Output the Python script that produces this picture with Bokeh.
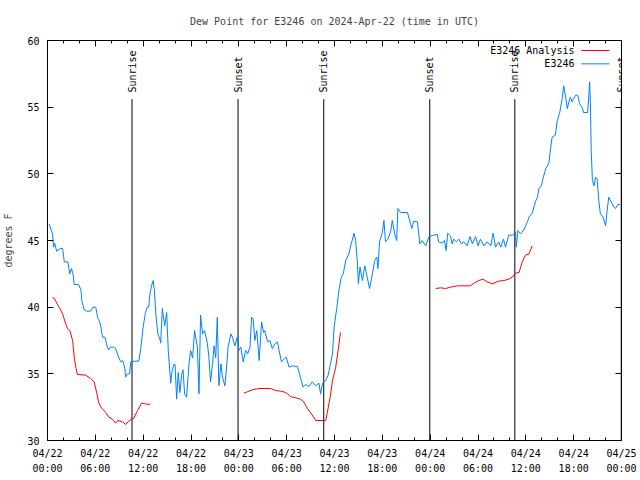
import math
from bokeh.plotting import figure
from bokeh.models import (FixedTicker, LinearAxis, DatetimeAxis, Range1d, Label,
                          ColumnDataSource)
from bokeh.embed import file_html
from bokeh.resources import INLINE

NAN = float("nan")
START_MS = 1713744000000  # 2024-04-22 00:00 UTC
HOUR_MS = 3600000

# ---- data (hours since 2024-04-22 00:00 UTC, dew point degrees F) ----
obs_hours = [0.2, 0.63, 0.75, 0.9, 1.15, 1.6, 1.9, 2.1, 2.55, 2.8, 3.0, 3.2, 3.35, 3.9, 4.2, 4.3,
             4.6, 4.9, 5.4, 5.7, 6.05, 6.3, 6.55, 6.7, 6.9, 7.2, 7.5, 7.7, 7.9, 8.3, 8.55, 8.95,
             9.2, 9.45, 9.7, 9.8, 10.05, 10.3, 10.45, 11.05, 11.45, 11.7, 12.0, 12.2, 12.3, 12.5,
             12.7, 12.85, 13.05, 13.25, 13.4, 13.6, 13.85, 14.1, 14.2, 14.4, 14.7, 14.95, 15.15,
             15.45, 15.65, 15.85, 16.0, 16.2, 16.4, 16.6, 16.85, 17.0, 17.2, 17.45, 17.75, 17.95,
             18.2, 18.45, 18.8, 19.0, 19.2, 19.45, 19.7, 20.05, 20.25, 20.45, 20.7, 20.9, 21.1,
             21.3, 21.5, 21.75, 21.95, 22.25, 22.5, 22.65, 23.0, 23.2, 23.5, 23.8, 24.0, 24.25,
             24.55, 24.85, 25.1, 25.4, 25.6, 25.8, 26.0, 26.25, 26.55, 26.85, 27.1, 27.25, 27.6,
             27.9, 28.2, 28.55, 28.85, 29.05, 29.35, 29.65, 29.95, 30.3, 30.7, 31.35, 31.65,
             32.05, 32.4, 32.8, 33.2, 33.65, 34.05, 34.25, 34.5, 34.9, 35.2, 35.5, 35.75, 35.95,
             36.3, 36.55, 36.85, 37.1, 37.4, 37.8, 38.1, 38.45, 38.65, 38.85, 39.0, 39.2, 39.5,
             39.8, 40.1, 40.4, 40.75, 41.05, 41.3, 41.45, 41.65, 42.0, 42.2, 42.4, 42.7, 43.05,
             43.25, 43.55, 43.8, 43.95, 44.3, 45.15, 45.7, 45.95, 46.4, 46.7, 47.0, 47.45, 47.85,
             48.45, 48.9, 49.05, 49.5, 49.8, 50.0, 50.2, 50.55, 50.75, 50.95, 51.3, 51.6, 51.9,
             52.25, 52.65, 53.0, 53.3, 53.7, 54.0, 54.3, 54.75, 55.15, 55.6, 55.9, 56.2, 56.6,
             56.85, 57.2, 57.45, 57.85, 58.3, 58.7, 58.8, 59.0, 59.35, 59.75, 60.2, 60.4, 60.8,
             61.2, 61.45, 61.65, 61.95, 62.2, 62.5, 62.7, 62.9, 63.1, 63.3, 63.7, 63.95, 64.25,
             64.55, 64.75, 65.0, 65.2, 65.4, 65.6, 65.8, 66.25, 66.5, 66.75, 67.05, 67.25, 67.75,
             67.9, 68.0, 68.1, 68.2, 68.35, 68.55, 68.75, 68.95, 69.15, 69.35, 69.7, 70.0, 70.2,
             70.4, 70.7, 71.05, 71.25, 71.55, 71.8]
obs_values = [46.25, 45.5, 44.5, 44.8, 44.2, 44.4, 44.4, 43.4, 43.4, 42.5, 42.9, 42.5, 41.7, 41.7,
              41.3, 40.5, 39.8, 39.7, 39.7, 40.0, 40.0, 39.2, 38.9, 38.5, 37.75, 37.75, 37.0, 36.8,
              37.0, 37.0, 36.9, 36.2, 35.9, 36.0, 35.4, 34.75, 35.0, 35.0, 35.9, 35.95, 35.95,
              36.9, 38.5, 39.3, 39.6, 40.0, 40.0, 41.0, 41.6, 42.0, 41.3, 39.4, 38.0, 37.6, 37.3,
              39.9, 38.6, 39.6, 36.75, 34.3, 35.3, 35.7, 35.7, 33.1, 35.1, 33.6, 35.0, 35.3, 33.5,
              33.25, 35.75, 36.75, 36.2, 38.25, 37.0, 33.5, 39.4, 38.0, 38.25, 37.3, 36.2, 34.4,
              35.75, 37.1, 36.2, 39.25, 34.1, 35.75, 34.75, 34.1, 35.75, 37.0, 38.0, 37.75, 37.1,
              37.75, 36.75, 37.0, 35.9, 36.75, 36.5, 37.0, 39.25, 39.1, 37.5, 38.25, 36.0, 38.9,
              38.1, 38.25, 37.4, 37.5, 36.9, 37.25, 37.4, 36.75, 35.9, 36.1, 36.25, 35.5, 35.6,
              35.55, 34.9, 34.0, 34.2, 34.05, 34.4, 34.1, 34.3, 33.5, 34.3, 34.5, 34.9, 35.75,
              36.5, 38.5, 40.0, 41.25, 42.25, 42.5, 43.5, 44.0, 44.75, 45.55, 45.0, 43.5, 41.75,
              43.0, 42.0, 43.1, 42.25, 41.4, 42.5, 43.5, 43.75, 42.9, 44.9, 45.6, 46.5, 44.9, 45.1,
              45.7, 46.5, 45.5, 45.0, 47.4, 47.1, 47.1, 45.9, 46.45, 46.4, 44.75, 45.0, 44.6, 45.3,
              45.4, 45.45, 44.9, 44.8, 45.0, 44.25, 45.55, 45.35, 44.75, 45.1, 44.9, 45.1, 44.75,
              44.9, 44.6, 45.3, 44.75, 45.3, 44.6, 45.1, 44.6, 44.9, 44.6, 45.55, 44.5, 44.9, 44.5,
              45.1, 44.5, 45.4, 45.4, 45.6, 44.5, 45.75, 45.5, 45.8, 46.4, 46.75, 47.05, 47.9,
              48.25, 48.9, 49.1, 49.75, 50.4, 50.6, 50.85, 51.9, 52.75, 52.9, 54.0, 54.6, 55.6,
              56.6, 55.75, 54.9, 55.4, 55.75, 55.4, 55.9, 55.9, 55.25, 55.0, 54.6, 54.6, 55.9,
              56.9, 55.25, 51.75, 49.5, 49.1, 49.75, 49.6, 48.0, 47.0, 46.75, 46.1, 47.25, 48.25,
              47.9, 47.5, 47.4, 47.7, 47.7]

# analysis series (NaN = gap in the data)
ana_hours = [0.63, 0.8, 1.45, 1.9, 2.2, 2.5, 2.8, 3.15, 3.35, 3.55, 3.75, 4.8, 5.4, 5.85, 6.2,
             6.4, 6.7, 7.3, 7.7, 8.15, 8.55, 8.8, 9.4, 9.8, 10.25, 10.8, 11.3, 11.8, 12.2, 12.85,
             18.0,
             24.65, 25.05, 25.7, 26.5, 28.0, 28.6, 29.25, 29.9, 30.5, 31.15, 31.75, 32.15, 32.6,
             33.1, 33.65, 34.9, 35.1, 35.45, 35.75, 36.15, 36.45, 36.75,
             42.0,
             48.7, 49.3, 49.95, 50.55, 51.4, 53.05, 53.5, 54.1, 54.65, 55.15, 55.8, 56.6, 57.25,
             57.85, 58.3, 58.7, 59.15, 59.55, 59.95, 60.4, 60.8]
ana_values = [40.7, 40.7, 40.0, 39.5, 38.9, 38.4, 38.25, 37.5, 36.25, 35.5, 34.95, 34.9, 34.65,
              34.4, 33.5, 32.9, 32.5, 32.1, 31.75, 31.6, 31.3, 31.5, 31.4, 31.2, 31.5, 31.65,
              32.25, 32.8, 32.75, 32.7,
              NAN,
              33.55, 33.65, 33.8, 33.9, 33.9, 33.75, 33.7, 33.6, 33.3, 33.2, 33.1, 32.9, 32.4,
              32.0, 31.5, 31.5, 32.1, 33.25, 34.5, 35.5, 36.75, 38.1,
              NAN,
              41.4, 41.45, 41.4, 41.5, 41.6, 41.6, 41.8, 42.0, 42.1, 41.9, 41.75, 41.95, 42.0,
              42.1, 42.25, 42.55, 42.6, 43.4, 43.9, 44.0, 44.6]

sun_hours = [10.6, 23.9, 34.65, 47.95, 58.62, 71.97]
sun_labels = ["Sunrise", "Sunset", "Sunrise", "Sunset", "Sunrise", "Sunset"]

tick_hours = list(range(0, 73, 6))
tick_labels = ["04/22\n00:00", "04/22\n06:00", "04/22\n12:00", "04/22\n18:00",
               "04/23\n00:00", "04/23\n06:00", "04/23\n12:00", "04/23\n18:00",
               "04/24\n00:00", "04/24\n06:00", "04/24\n12:00", "04/24\n18:00",
               "04/25\n00:00"]
minor_hours = list(range(0, 73, 2))
y_ticks = [30, 35, 40, 45, 50, 55, 60]

TITLE = "Dew Point for E3246 on 2024-Apr-22 (time in UTC)"
FONT = "DejaVu Sans Mono"
FS = "10px"


def to_ms(h):
    return START_MS + h * HOUR_MS


obs_src = ColumnDataSource(dict(x=[to_ms(h) for h in obs_hours], y=obs_values))
ana_src = ColumnDataSource(dict(x=[to_ms(h) for h in ana_hours], y=ana_values))

p = figure(width=640, height=480, x_axis_type="datetime",
           x_range=Range1d(to_ms(0), to_ms(72)), y_range=Range1d(30, 60),
           output_backend="svg", toolbar_location=None,
           min_border_left=47, min_border_right=19, min_border_top=40, min_border_bottom=40,
           background_fill_color="white", border_fill_color="white")
p.title.text = TITLE
p.title.text_font = FONT
p.title.text_font_size = FS
p.title.text_font_style = "normal"
p.title.align = "center"
p.title.standoff = 27

p.grid.visible = False
p.outline_line_color = "black"
p.outline_line_width = 1

ticks_ms = [to_ms(h) for h in tick_hours]
minor_ms = [to_ms(h) for h in minor_hours]
xt = FixedTicker(ticks=ticks_ms, minor_ticks=minor_ms)
yt = FixedTicker(ticks=y_ticks, minor_ticks=[])


def style_axis(ax, show_labels=True):
    ax.axis_line_color = "black"
    ax.major_tick_line_color = "black"
    ax.minor_tick_line_color = "black"
    ax.major_tick_in = 6
    ax.major_tick_out = 0
    ax.minor_tick_in = 3
    ax.minor_tick_out = 0
    ax.major_label_text_font = FONT
    if show_labels:
        ax.major_label_text_font_size = FS
        ax.major_label_text_color = "black"
    else:
        # mirrored axis: ticks only, labels not painted
        ax.major_label_text_font_size = "1px"
        ax.major_label_text_color = None
    ax.axis_label_text_font = FONT
    ax.axis_label_text_font_size = FS
    ax.axis_label_text_font_style = "normal"


xa = p.xaxis[0]
xa.ticker = xt
xa.major_label_overrides = {ms: lab for ms, lab in zip(ticks_ms, tick_labels)}
style_axis(xa)
xa.major_label_standoff = 7
xa.major_label_text_line_height = 1.4

ya = p.yaxis[0]
ya.ticker = yt
style_axis(ya)
ya.major_label_standoff = 8
ya.axis_label = "degrees F"
ya.axis_label_standoff = 10

top = DatetimeAxis(ticker=xt)
style_axis(top, show_labels=False)
top.major_label_standoff = 0
p.add_layout(top, "above")

right = LinearAxis(ticker=yt)
style_axis(right, show_labels=False)
right.major_label_standoff = 0
p.add_layout(right, "right")

# sunrise / sunset markers
sun_src = ColumnDataSource(dict(x=[to_ms(h) for h in sun_hours], lab=sun_labels))
p.segment(x0="x", y0=30, x1="x", y1=55.6, source=sun_src, line_color="black", line_width=1)
for h, lab in zip(sun_hours, sun_labels):
    p.add_layout(Label(x=to_ms(h), y=56.1, text=lab, angle=math.pi / 2,
                       text_align="left", text_baseline="middle", text_font=FONT,
                       text_font_size=FS, text_color="black"))

# data lines
p.line("x", "y", source=ana_src, line_color="#ff0000", line_width=1)
p.line("x", "y", source=obs_src, line_color="#0080ff", line_width=1)

# legend (gnuplot style: text right-aligned, sample line on its right)
leg_text_h = 66.1
leg_rows = [("E3246 Analysis", "#ff0000", 59.25), ("E3246", "#0080ff", 58.25)]
for lab, col, yv in leg_rows:
    p.add_layout(Label(x=to_ms(leg_text_h), y=yv, text=lab, text_align="right",
                       text_baseline="middle", text_font=FONT, text_font_size=FS,
                       text_color="black"))
    p.segment(x0=[to_ms(66.95)], y0=[yv], x1=[to_ms(70.5)], y1=[yv], line_color=col,
              line_width=1)

open("out.html", "w").write(file_html(p, INLINE))
